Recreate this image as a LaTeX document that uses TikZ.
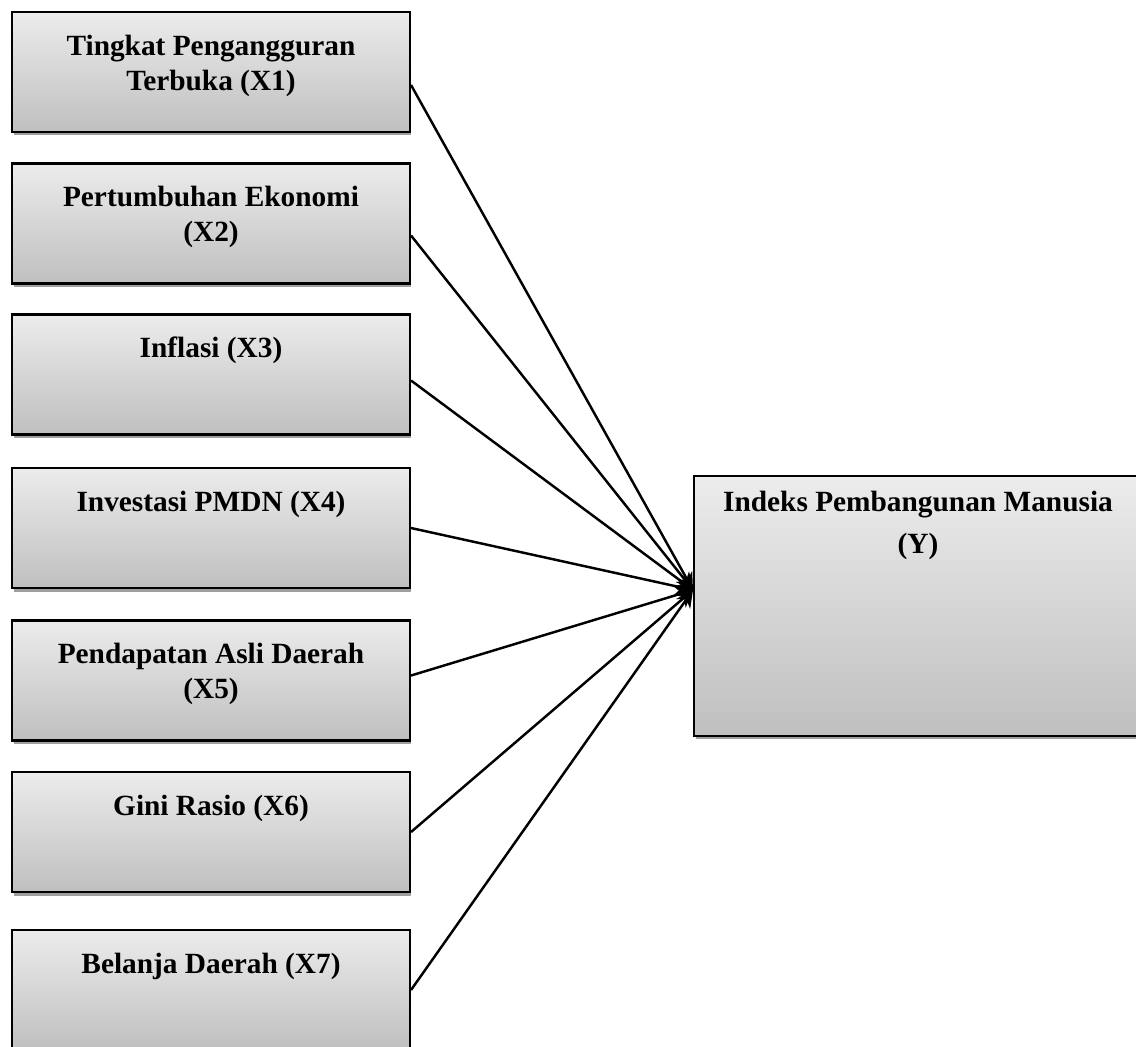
\documentclass[tikz,border=0pt]{standalone}
\usepackage{fontspec}
\setmainfont{Liberation Serif}
\usetikzlibrary{arrows.meta,positioning,shadows}

\tikzset{
  basebox/.style={draw, line width=1.2pt, top color=gray!15, bottom color=gray!50,
    minimum width=7.96cm, minimum height=2.4cm,
    drop shadow={shadow xshift=0.03cm, shadow yshift=-0.07cm, fill=gray!75, opacity=1}},
  varbox/.style={basebox, label={[boxtext]north:#1}},
  boxtext/.style={anchor=north, yshift=-0.35cm, align=center,
    font=\fontsize{16.7}{20}\selectfont\bfseries},
  link/.style={line width=1.4pt, -{Stealth[length=0.34cm, width=0.34cm]}}
}

\begin{document}
\begin{tikzpicture}[x=0.02cm, y=-0.02cm]
\useasboundingbox (0, 0) rectangle (1136, 1046);
\node[varbox={Tingkat Pengangguran\\Terbuka (X1)}] (x1) at (211, 72) {};
\node[varbox={Pertumbuhan Ekonomi\\(X2)}] (x2) at (211, 223.5) {};
\node[varbox={Inflasi (X3)}] (x3) at (211, 374.5) {};
\node[varbox={Investasi PMDN (X4)}] (x4) at (211, 528) {};
\node[varbox={Pendapatan Asli Daerah\\(X5)}] (x5) at (211, 680.5) {};
\node[varbox={Gini Rasio (X6)}] (x6) at (211, 832) {};
\node[varbox={Belanja Daerah (X7)}] (x7) at (211, 990) {};
\node[basebox, minimum width=8.96cm, minimum height=5.2cm,
  label={[boxtext, yshift=0.16cm]north:Indeks Pembangunan Manusia\\[4pt](Y)}] (y) at (918, 606) {};
\coordinate (tip) at ([yshift=0.32cm]y.west);
\draw[link] ([yshift=-0.26cm]x1.east) -- (tip);
\draw[link] ([yshift=-0.24cm]x2.east) -- (tip);
\draw[link] ([yshift=-0.12cm]x3.east) -- (tip);
\draw[link] (x4.east) -- (tip);
\draw[link] ([yshift=0.1cm]x5.east) -- (tip);
\draw[link] (x6.east) -- (tip);
\draw[link] (x7.east) -- (tip);
\end{tikzpicture}
\end{document}
